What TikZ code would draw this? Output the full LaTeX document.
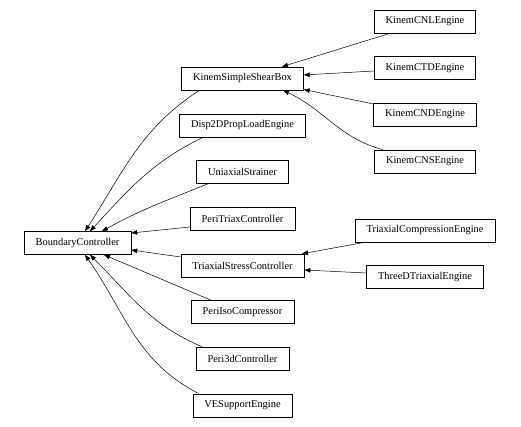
\documentclass[tikz,border=0pt]{standalone}
\usepackage{fontspec}
\setmainfont{Liberation Serif}
\usetikzlibrary{arrows.meta}

\begin{document}
\begin{tikzpicture}[x=1pt,y=-1pt,
		cls/.style={draw,line width=0.6pt,minimum height=23pt,inner xsep=11.5pt,inner ysep=0pt,font=\fontsize{10.4}{12}\selectfont},
		inh/.style={-{Triangle[length=6pt,width=4.5pt]},line width=0.5pt}]
		\useasboundingbox (0,0) rectangle (521,427);
		\node[cls] (bc) at (77.5,243) {BoundaryController};
		\node[cls] (ksb) at (242.5,78.5) {KinemSimpleShearBox};
		\node[cls] (d2d) at (242.5,125.5) {Disp2DPropLoadEngine};
		\node[cls] (uni) at (242.5,172) {UniaxialStrainer};
		\node[cls] (ptc) at (242.5,218.5) {PeriTriaxController};
		\node[cls] (tsc) at (242.5,265.5) {TriaxialStressController};
		\node[cls] (pic) at (242.5,312) {PeriIsoCompressor};
		\node[cls] (p3d) at (242.5,358.5) {Peri3dController};
		\node[cls] (ves) at (242.5,405.5) {VESupportEngine};
		\node[cls] (cnl) at (425,21.5) {KinemCNLEngine};
		\node[cls] (ctd) at (425,68) {KinemCTDEngine};
		\node[cls] (cnd) at (425,114.5) {KinemCNDEngine};
		\node[cls] (cns) at (425,161.5) {KinemCNSEngine};
		\node[cls] (tce) at (425,230.5) {TriaxialCompressionEngine};
		\node[cls] (tdt) at (425,277) {ThreeDTriaxialEngine};
		\draw[inh] ([xshift=-43pt]ksb.south) to [out=213,in=57] ([xshift=7.5pt]bc.north);
		\draw[inh] ([xshift=-39.5pt]d2d.south) to [out=206,in=47] ([xshift=12.5pt]bc.north);
		\draw[inh] ([xshift=-34.5pt]uni.south) to [out=202,in=29] ([xshift=24.5pt]bc.north);
		\draw[inh] ([yshift=-8.5pt]ptc.west) -- ([yshift=10pt]bc.east);
		\draw[inh] ([yshift=8.5pt]tsc.west) -- ([yshift=-7pt]bc.east);
		\draw[inh] ([xshift=-31.5pt]pic.north) -- ([xshift=26.5pt]bc.south);
		\draw[inh] ([xshift=-40.5pt]p3d.north) to [out=157,in=-45] ([xshift=12.5pt]bc.south);
		\draw[inh] ([xshift=-43.5pt]ves.north) to [out=153,in=-55] ([xshift=7.5pt]bc.south);
		\draw[inh] ([xshift=-35pt]cnl.south) -- ([xshift=39.5pt]ksb.north);
		\draw[inh] ([yshift=-3pt]ctd.west) -- ([yshift=3.5pt]ksb.east);
		\draw[inh] ([yshift=10.5pt]cnd.west) -- ([yshift=-11pt]ksb.east);
		\draw[inh] ([xshift=-42pt]cns.north) to [out=165,in=-25] ([xshift=40.5pt]ksb.south);
		\draw[inh] ([xshift=-60pt]tce.south) -- ([xshift=59.5pt]tsc.north);
		\draw[inh] ([yshift=4pt]tdt.west) -- ([yshift=-4.5pt]tsc.east);
	\end{tikzpicture}
\end{document}
